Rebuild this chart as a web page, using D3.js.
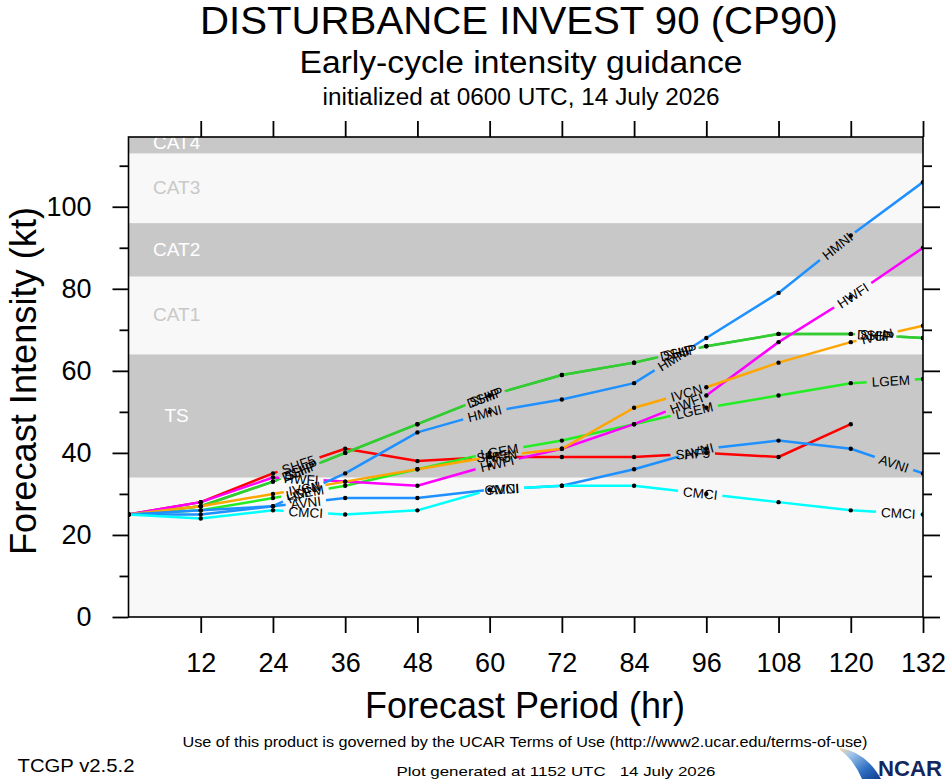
<!DOCTYPE html>
<html>
<head>
<meta charset="utf-8">
<script src="https://cdn.jsdelivr.net/npm/d3@7"></script>
<style>
body { margin: 0; background: #fff; }
svg { display: block; }
text { font-family: "Liberation Sans", Arial, Helvetica, sans-serif; white-space: pre; }
</style>
</head>
<body>
<div id="display"></div>
<script>
// forecast hours and model guidance (kt)
var hours = [0, 12, 24, 36, 48, 60, 72, 84, 96, 108, 120, 132];
var modelNames = ["SHF5", "DSHP", "SHIP", "LGEM", "HWFI", "IVCN", "HMNI", "AVNI", "CMCI"];
var modelColors = ["#ff0000", "#33cc33", "#33cc33", "#22ee22", "#ff00ff", "#ffa500", "#1e90ff", "#1e90ff", "#00ffff"];
var shf5 = [25, 28, 35, 41, 38, 39, 39, 39, 40, 39, 47, null];
var dshp = [25, 27, 33, 40, 47, 54, 59, 62, 66, 69, 69, 68];
var ship = [25, 27, 33, 40, 47, 54, 59, 62, 66, 69, 69, 68];
var lgem = [25, 26, 29, 32, 36, 40, 43, 47, 51, 54, 57, 58];
var hwfi = [25, 28, 34, 33, 32, 37, 41, 47, 54, 67, 78, 90];
var ivcn = [25, 27, 30, 33, 36, 39, 41, 51, 56, 62, 67, 71];
var hmni = [25, 26, 27, 35, 45, 50, 53, 57, 68, 79, 93, 106];
var avni = [25, 25, 27, 29, 29, 31, 32, 36, 41, 43, 41, 35];
var cmci = [25, 24, 26, 25, 26, 31, 32, 32, 30, 28, 26, 25];
var modelValues = [shf5, dshp, ship, lgem, hwfi, ivcn, hmni, avni, cmci];

var xTicks = [12, 24, 36, 48, 60, 72, 84, 96, 108, 120, 132];
var yTicks = [0, 20, 40, 60, 80, 100];
var yMinorTicks = [10, 30, 50, 70, 90, 110];

// Saffir-Simpson bands
var bandNames = ["TS", "CAT1", "CAT2", "CAT3", "CAT4"];
var bandLow = [34, 64, 83, 96, 113];
var bandHigh = [64, 83, 96, 113, 137];
var bandShaded = [true, false, true, false, true];

var W = 946, H = 780;
var margin = {left: 128.5, right: 23, top: 137, bottom: 163};
var greyBand = "#c8c8c8", lightBg = "#f8f8f8";
var yMax = 117;

var x = d3.scaleLinear().domain([0, 132]).range([margin.left, W - margin.right]);
var y = d3.scaleLinear().domain([0, yMax]).range([H - margin.bottom, margin.top]);

var svg = d3.select("#display").append("svg")
    .attr("width", W).attr("height", H);
var defs = svg.append("defs");

defs.append("clipPath").attr("id", "plotclip")
  .append("rect")
    .attr("x", x(0)).attr("y", y(yMax))
    .attr("width", x(132) - x(0)).attr("height", y(0) - y(yMax));

// background + bands
var plot = svg.append("g").attr("clip-path", "url(#plotclip)");
plot.append("rect")
    .attr("x", x(0)).attr("y", y(yMax))
    .attr("width", x(132) - x(0)).attr("height", y(0) - y(yMax))
    .attr("fill", lightBg);

var bands = bandNames.map(function(n, i) {
  return {name: n, lo: bandLow[i], hi: bandHigh[i], shaded: bandShaded[i]};
});

plot.selectAll("rect.band")
  .data(bands.filter(function(b) { return b.shaded; }))
  .join("rect")
    .attr("class", "band")
    .attr("x", x(0)).attr("y", function(b) { return y(b.hi); })
    .attr("width", x(132) - x(0))
    .attr("height", function(b) { return y(b.lo) - y(b.hi); })
    .attr("fill", greyBand);

plot.selectAll("text.band")
  .data(bands)
  .join("text")
    .attr("class", "band")
    .attr("x", x(8))
    .attr("y", function(b) { return y((b.lo + Math.min(b.hi, yMax + 1)) / 2) - 1; })
    .attr("dy", "0.36em")
    .attr("text-anchor", "middle")
    .style("font-size", "19px")
    .attr("fill", function(b) { return b.shaded ? "#ffffff" : greyBand; })
    .text(function(b) { return b.name; });

// model lines
var line = d3.line()
    .defined(function(d) { return d.v != null; })
    .x(function(d) { return x(d.h); })
    .y(function(d) { return y(d.v); });

var series = modelNames.map(function(n, i) {
  return {
    name: n, color: modelColors[i],
    pts: hours.map(function(h, j) { return {h: h, v: modelValues[i][j]}; })
  };
});

var gLines = plot.append("g");
var gDots = plot.append("g");
var gLabels = plot.append("g");
var labelStart = 178, labelStep = 199;

series.forEach(function(s, i) {
  var path = gLines.append("path")
      .datum(s.pts)
      .attr("d", line)
      .attr("fill", "none")
      .attr("stroke", s.color)
      .attr("stroke-width", 2.5)
      .attr("stroke-linejoin", "round");

  var node = path.node();
  var total = node.getTotalLength();
  var mask = defs.append("mask").attr("id", "gap" + i)
      .attr("maskUnits", "userSpaceOnUse")
      .attr("x", 0).attr("y", 0).attr("width", W).attr("height", H);
  mask.append("rect").attr("x", 0).attr("y", 0)
      .attr("width", W).attr("height", H).attr("fill", "#fff");

  for (var d = labelStart; d < total - 8; d += labelStep) {
    var p = node.getPointAtLength(d);
    var p1 = node.getPointAtLength(Math.max(0, d - 12));
    var p2 = node.getPointAtLength(Math.min(total, d + 12));
    var ang = Math.atan2(p2.y - p1.y, p2.x - p1.x) * 180 / Math.PI;
    var t = gLabels.append("text")
        .attr("transform", "translate(" + p.x + "," + p.y + ") rotate(" + ang + ")")
        .attr("text-anchor", "middle")
        .attr("dy", "0.36em")
        .style("font-size", "13.5px")
        .attr("fill", "#000")
        .text(s.name);
    var tw = t.node().getComputedTextLength();
    mask.append("rect")
        .attr("transform", "translate(" + p.x + "," + p.y + ") rotate(" + ang + ")")
        .attr("x", -tw / 2 - 5).attr("y", -7)
        .attr("width", tw + 10).attr("height", 14)
        .attr("fill", "#000");
  }
  path.attr("mask", "url(#gap" + i + ")");

  gDots.selectAll("circle.m" + i)
    .data(s.pts.filter(function(d) { return d.v != null; }))
    .join("circle")
      .attr("class", "m" + i)
      .attr("cx", function(d) { return x(d.h); })
      .attr("cy", function(d) { return y(d.v); })
      .attr("r", 2.2)
      .attr("fill", "#000");
});

// axes
function styleAxis(g) {
  g.select(".domain").remove();
  g.selectAll(".tick line").attr("stroke", "#000").attr("stroke-width", 1.8);
  g.selectAll(".tick text").attr("fill", "#000").style("font-size", "27px")
    .style("font-family", "'Liberation Sans', Arial, Helvetica, sans-serif");
}

svg.append("g")
    .attr("transform", "translate(" + x(0) + ",0)")
    .call(d3.axisLeft(y).tickValues(yTicks).tickSize(16).tickPadding(21))
    .call(styleAxis);
svg.append("g")
    .attr("transform", "translate(" + x(0) + ",0)")
    .call(d3.axisLeft(y).tickValues(yMinorTicks).tickSize(9).tickFormat(""))
    .call(styleAxis);
svg.append("g")
    .attr("transform", "translate(" + x(132) + ",0)")
    .call(d3.axisRight(y).tickValues(yTicks).tickSize(17).tickFormat(""))
    .call(styleAxis);
svg.append("g")
    .attr("transform", "translate(" + x(132) + ",0)")
    .call(d3.axisRight(y).tickValues(yMinorTicks).tickSize(9).tickFormat(""))
    .call(styleAxis);
svg.append("g")
    .attr("transform", "translate(0," + y(0) + ")")
    .call(d3.axisBottom(x).tickValues(xTicks).tickSize(16).tickPadding(20))
    .call(styleAxis);
svg.append("g")
    .attr("transform", "translate(0," + y(yMax) + ")")
    .call(d3.axisTop(x).tickValues(xTicks).tickSize(16).tickFormat(""))
    .call(styleAxis);

svg.append("rect")
    .attr("x", x(0)).attr("y", y(yMax))
    .attr("width", x(132) - x(0)).attr("height", y(0) - y(yMax))
    .attr("fill", "none").attr("stroke", "#000").attr("stroke-width", 1.6);

// titles
function addText(str, tx, ty, size, len, extra) {
  var t = svg.append("text")
      .attr("x", tx).attr("y", ty)
      .attr("text-anchor", "middle")
      .style("font-size", size + "px")
      .attr("fill", "#000")
      .text(str);
  if (len) t.attr("textLength", len).attr("lengthAdjust", "spacingAndGlyphs");
  if (extra) extra(t);
  return t;
}

addText("DISTURBANCE INVEST 90 (CP90)", 519, 34, 38, 638);
addText("Early-cycle intensity guidance", 521, 73, 31, 443);
addText("initialized at 0600 UTC, 14 July 2026", 521, 105, 23, 397);
addText("Forecast Period (hr)", 525, 718, 36, 320);
addText("Forecast Intensity (kt)", 0, 0, 36, 348, function(t) {
  t.attr("transform", "translate(36," + ((y(0) + y(yMax)) / 2 + 4) + ") rotate(-90)");
});
addText("Use of this product is governed by the UCAR Terms of Use (http://www2.ucar.edu/terms-of-use)", 525, 747, 15, 685);
addText("TCGP v2.5.2", 76, 772, 18, 117);
addText("Plot generated at 1152 UTC   14 July 2026", 556, 776, 13, 319);

// NCAR logo
var grad = defs.append("linearGradient").attr("id", "swoosh")
    .attr("x1", "0%").attr("y1", "0%").attr("x2", "100%").attr("y2", "100%");
grad.append("stop").attr("offset", "0%").attr("stop-color", "#f6d7a8");
grad.append("stop").attr("offset", "25%").attr("stop-color", "#9cc3ea");
grad.append("stop").attr("offset", "65%").attr("stop-color", "#2f6fc4");
grad.append("stop").attr("offset", "100%").attr("stop-color", "#0d3a8a");
svg.append("path")
    .attr("d", "M840,748 Q866,752 881,779 L862,779 Q854,760 840,750 Z")
    .attr("fill", "url(#swoosh)");
svg.append("text")
    .attr("x", 878).attr("y", 776)
    .style("font-size", "22px").style("font-weight", "bold")
    .attr("fill", "#13275e")
    .attr("textLength", 64).attr("lengthAdjust", "spacingAndGlyphs")
    .text("NCAR");
</script>
</body>
</html>
